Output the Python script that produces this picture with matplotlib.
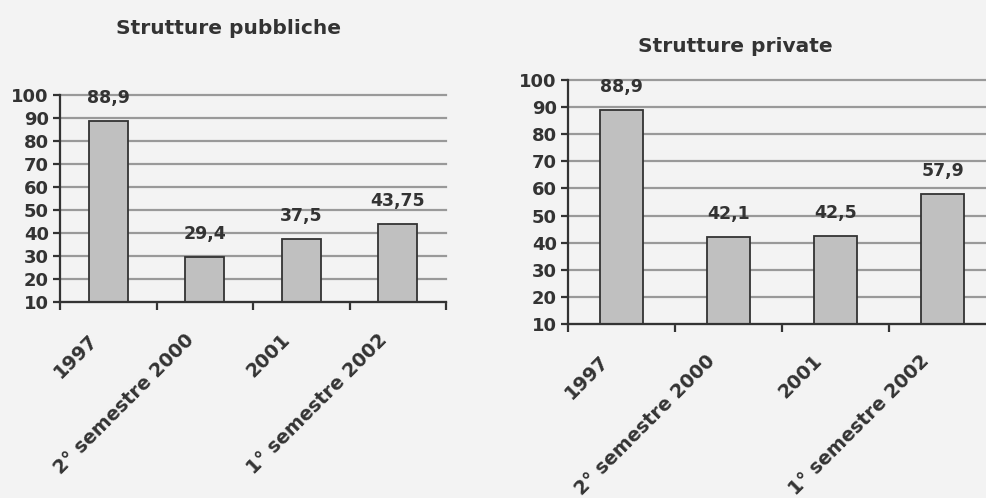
import matplotlib
matplotlib.use('Agg')
from matplotlib import pyplot as plt
from matplotlib import transforms
import numpy as np

categories = ['1997', '2° semestre 2000', '2001', '1° semestre 2002']
pubbliche = [88.9, 29.4, 37.5, 43.75]
private = [88.9, 42.1, 42.5, 57.9]
pubbliche_labels = ['88,9', '29,4', '37,5', '43,75']
private_labels = ['88,9', '42,1', '42,5', '57,9']
y_ticks = [10, 20, 30, 40, 50, 60, 70, 80, 90, 100]

bg = '#f3f3f3'
dark = '#333333'
fs = 13

plt.rcParams.update({
    'font.family': 'DejaVu Sans',
    'font.weight': 'bold',
    'font.size': fs,
    'text.color': dark,
})

fig = plt.figure(figsize=(9.86, 4.98), dpi=100, facecolor=bg)


def draw_panel(ax, values, labels, label_dx, label_dy):
    ax.set_facecolor(bg)
    x = np.arange(len(values)) + 0.5
    ax.set_axisbelow(True)
    ax.bar(x, [v - 10 for v in values], bottom=10, width=0.4,
           color='#c0c0c0', edgecolor=dark, linewidth=1.3, zorder=3)
    for xi, v, lab in zip(x, values, labels):
        ax.annotate(lab, (xi, v), xytext=(0, 16.5), textcoords='offset points',
                    ha='center', va='center', fontsize=12.5, fontweight='bold',
                    color=dark)
    ax.set_xlim(0, len(values))
    ax.set_ylim(10, 100)
    ax.set_yticks(y_ticks)
    ax.yaxis.grid(True, color='#999999', linewidth=1.6, zorder=0)
    for line in ax.get_ygridlines():
        line.set_clip_on(False)
    for s in ('top', 'right'):
        ax.spines[s].set_visible(False)
    for s in ('left', 'bottom'):
        ax.spines[s].set_color(dark)
        ax.spines[s].set_linewidth(1.6)
        ax.spines[s].set_zorder(4)
    ax.tick_params(axis='y', direction='out', length=5, width=1.6, color=dark,
                   labelcolor=dark, labelsize=fs, pad=3)
    # boundaries carry the tick marks, centres carry the rotated labels
    ax.set_xticks(np.arange(len(values) + 1))
    ax.set_xticklabels([])
    ax.set_xticks(x, minor=True)
    ax.set_xticklabels(categories, minor=True, rotation=45, ha='right',
                       va='center', rotation_mode='anchor')
    ax.tick_params(axis='x', which='major', direction='out', length=6,
                   width=1.6, color=dark)
    ax.tick_params(axis='x', which='minor', length=0, pad=0,
                   labelsize=13.8, labelcolor=dark)
    shift = transforms.ScaledTranslation(label_dx / 100, -label_dy / 100,
                                         fig.dpi_scale_trans)
    for t in ax.xaxis.get_minorticklabels():
        t.set_transform(t.get_transform() + shift)
        t.set_fontweight('bold')
    for t in ax.yaxis.get_majorticklabels():
        t.set_fontweight('bold')


ax1 = fig.add_axes([60 / 986, 196 / 498, 386 / 986, 207 / 498])
draw_panel(ax1, pubbliche, pubbliche_labels, -14, 35)

ax2 = fig.add_axes([568 / 986, 174 / 498, 428 / 986, 244 / 498])
draw_panel(ax2, private, private_labels, -16, 34)

fig.text(228 / 986, 1 - 28 / 498, 'Strutture pubbliche', ha='center',
         va='center', fontsize=14.5, fontweight='bold', color=dark)
fig.text(735 / 986, 1 - 47 / 498, 'Strutture private', ha='center',
         va='center', fontsize=14.5, fontweight='bold', color=dark)

fig.savefig('out.png', dpi=100, facecolor=bg)
